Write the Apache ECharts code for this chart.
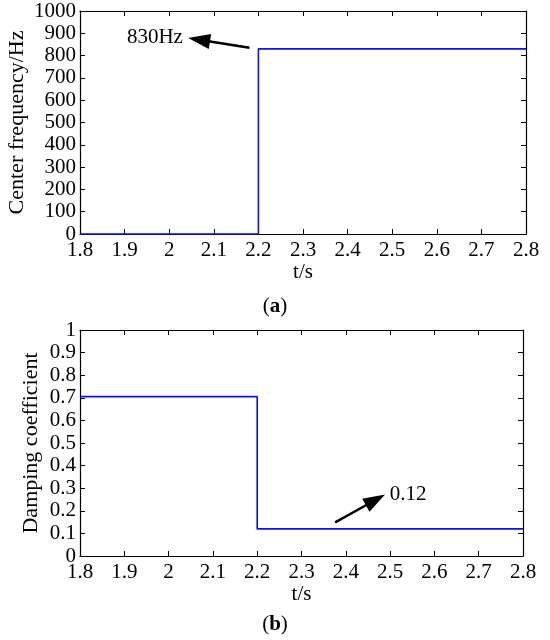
<!DOCTYPE html>
<html>
<head>
<meta charset="utf-8">
<script src="https://cdn.jsdelivr.net/npm/echarts@6/dist/echarts.min.js"></script>
<style>
  html, body { margin: 0; padding: 0; background: #fff; }
  #chart { width: 550px; height: 640px; }
</style>
</head>
<body>
<div id="chart"></div>
<script>
// step responses
var tA = [1.8, 2.2, 2.2, 2.8];
var centerFreq = [0, 0, 830, 830];
var tB = [1.8, 2.2, 2.2, 2.8];
var damping = [0.705, 0.705, 0.12, 0.12];

// annotation arrows: [tail, head centre] in data coords, plus text anchor
var arrowA = [[2.18, 835], [2.067, 871]];
var labelA = '830Hz';
var labelAAt = [2.042, 879];
var arrowB = [[2.376, 0.149], [2.467, 0.248]];
var labelB = '0.12';
var labelBAt = [2.488, 0.272];

var FONT = 'Liberation Serif';
var BLUE = '#1010f0';
var FS = 21;

function zip(xs, ys) {
  return xs.map(function (x, i) { return [x, ys[i]]; });
}

function plainNum(v) {
  return String(Math.round(v * 1000) / 1000);
}

function mainX(gridIndex, nameGap) {
  return {
    type: 'value', gridIndex: gridIndex, min: 1.8, max: 2.8, interval: 0.1,
    name: 't/s', nameLocation: 'middle', nameGap: nameGap,
    nameTextStyle: { fontFamily: FONT, fontSize: FS, color: '#000' },
    axisLine: { onZero: false, lineStyle: { color: '#000', width: 1.2 } },
    axisTick: { inside: true, length: 5, lineStyle: { color: '#000' } },
    axisLabel: { fontFamily: FONT, fontSize: FS, color: '#000', margin: 6, formatter: plainNum },
    splitLine: { show: false }
  };
}

function mirrorX(gridIndex) {
  return {
    type: 'value', gridIndex: gridIndex, position: 'top', min: 1.8, max: 2.8, interval: 0.1,
    axisLine: { onZero: false, lineStyle: { color: '#000', width: 1.2 } },
    axisTick: { inside: true, length: 5, lineStyle: { color: '#000' } },
    axisLabel: { show: false }, splitLine: { show: false }
  };
}

function mainY(gridIndex, max, interval, name, nameGap) {
  return {
    type: 'value', gridIndex: gridIndex, min: 0, max: max, interval: interval,
    name: name, nameLocation: 'middle', nameGap: nameGap, nameMoveOverlap: false,
    nameTextStyle: { fontFamily: FONT, fontSize: 22, color: '#000' },
    axisLine: { show: true, onZero: false, lineStyle: { color: '#000', width: 1.2 } },
    axisTick: { show: true, inside: true, length: 5, lineStyle: { color: '#000' } },
    axisLabel: { fontFamily: FONT, fontSize: FS, color: '#000', margin: 4, formatter: plainNum },
    splitLine: { show: false }
  };
}

function mirrorY(gridIndex, max, interval) {
  return {
    type: 'value', gridIndex: gridIndex, position: 'right', min: 0, max: max, interval: interval,
    axisLine: { show: true, onZero: false, lineStyle: { color: '#000', width: 1.2 } },
    axisTick: { show: true, inside: true, length: 5, lineStyle: { color: '#000' } },
    axisLabel: { show: false }, splitLine: { show: false }
  };
}

function arrowLine(arrow) {
  return {
    silent: true,
    symbol: ['none', 'triangle'],
    symbolSize: [15, 22],
    label: { show: false },
    lineStyle: { color: '#000', width: 2.4, type: 'solid' },
    data: [[{ coord: arrow[0] }, { coord: arrow[1] }]]
  };
}

function arrowText(coord, text, pos, dist) {
  return {
    silent: true,
    symbol: 'circle', symbolSize: 0,
    label: { show: true, position: pos, distance: dist, formatter: text,
             fontFamily: FONT, fontSize: FS, color: '#000' },
    data: [{ coord: coord }]
  };
}

var chart = echarts.init(document.getElementById('chart'));
chart.setOption({
  animation: false,
  backgroundColor: '#fff',
  title: [
    { text: '({a|a})', left: 'center', top: 291,
      textStyle: { fontFamily: FONT, fontSize: FS, fontWeight: 'normal', color: '#000',
                   rich: { a: { fontFamily: FONT, fontSize: FS, fontWeight: 'bold', color: '#000' } } } },
    { text: '({a|b})', left: 'center', top: 609,
      textStyle: { fontFamily: FONT, fontSize: FS, fontWeight: 'normal', color: '#000',
                   rich: { a: { fontFamily: FONT, fontSize: FS, fontWeight: 'bold', color: '#000' } } } }
  ],
  grid: [
    { left: 80, top: 11, width: 446, height: 223, outerBoundsMode: 'none' },
    { left: 80, top: 330, width: 443, height: 226, outerBoundsMode: 'none' }
  ],
  xAxis: [mainX(0, 27), mirrorX(0), mainX(1, 27), mirrorX(1)],
  yAxis: [
    mainY(0, 1000, 100, 'Center frequency/Hz', 52), mirrorY(0, 1000, 100),
    mainY(1, 1, 0.1, 'Damping coefficient', 38), mirrorY(1, 1, 0.1)
  ],
  series: [
    { type: 'line', xAxisIndex: 0, yAxisIndex: 0, data: zip(tA, centerFreq),
      showSymbol: false, lineStyle: { color: BLUE, width: 1.6 },
      markLine: arrowLine(arrowA),
      markPoint: arrowText(labelAAt, labelA, 'left', 5) },
    { type: 'line', xAxisIndex: 2, yAxisIndex: 2, data: zip(tB, damping),
      showSymbol: false, lineStyle: { color: BLUE, width: 1.6 },
      markLine: arrowLine(arrowB),
      markPoint: arrowText(labelBAt, labelB, 'right', 5) }
  ]
});
</script>
</body>
</html>
